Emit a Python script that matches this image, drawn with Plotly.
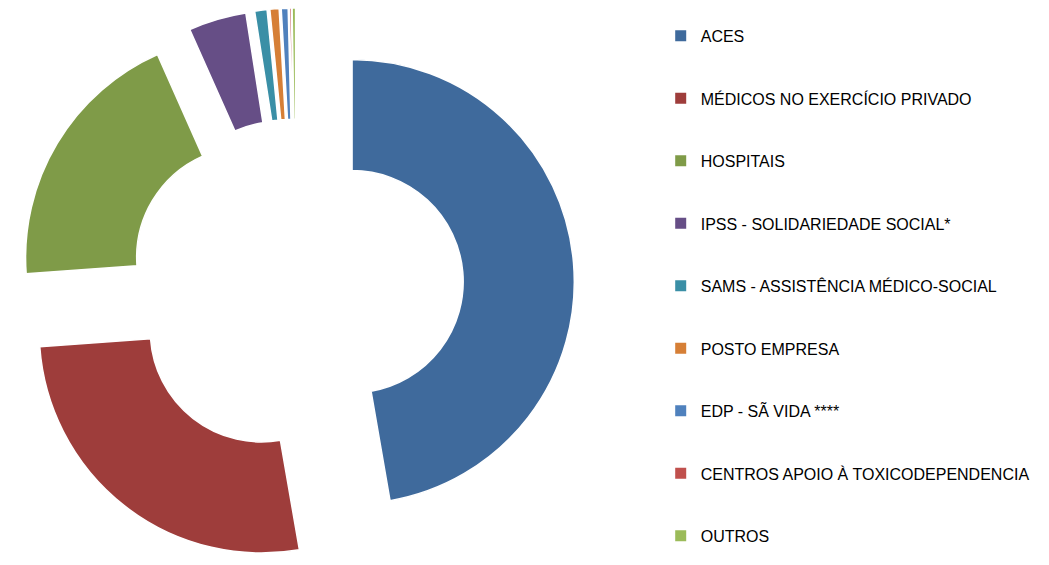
import plotly.graph_objects as go

categories = [
    "ACES",
    "MÉDICOS NO EXERCÍCIO PRIVADO",
    "HOSPITAIS",
    "IPSS - SOLIDARIEDADE SOCIAL*",
    "SAMS - ASSISTÊNCIA MÉDICO-SOCIAL",
    "POSTO EMPRESA",
    "EDP - SÃ VIDA ****",
    "CENTROS APOIO À TOXICODEPENDENCIA",
    "OUTROS",
]
values = [47.3, 26.6, 19.5, 4.2, 0.9, 0.67, 0.5, 0.15, 0.25]
colors = ["#3F6A9C", "#9E3D3B", "#7F9B48", "#664E86", "#3A8FA6",
          "#D67F36", "#4F81BD", "#C0504D", "#9BBB59"]

fig = go.Figure()
fig.add_trace(go.Pie(
    labels=categories,
    values=values,
    sort=False,
    direction="clockwise",
    rotation=0,
    hole=0.5,
    pull=[0.253] * len(values),
    textinfo="none",
    hoverinfo="label+percent",
    marker=dict(colors=colors, line=dict(color="white", width=1.5)),
    showlegend=False,
    domain=dict(x=[0.0092, 0.5442], y=[0.0, 1.0]),
))

for i, (name, col) in enumerate(zip(categories, colors)):
    fig.add_trace(go.Scatter(
        x=[None], y=[None], mode="markers", name=name,
        legendgroup=f"g{i}",
        marker=dict(symbol="square", size=11, color=col),
        hoverinfo="skip",
    ))

fig.update_layout(
    width=1041, height=557,
    margin=dict(l=0, r=0, t=0, b=0),
    paper_bgcolor="white",
    plot_bgcolor="white",
    xaxis=dict(visible=False),
    yaxis=dict(visible=False),
    showlegend=True,
    legend=dict(
        x=0.627, y=0.9803, xanchor="left", yanchor="top",
        font=dict(family="Liberation Sans", size=16, color="#000000"),
        tracegroupgap=38.7,
        traceorder="grouped",
        itemclick=False, itemdoubleclick=False,
    ),
)

fig.write_html("out.html")
